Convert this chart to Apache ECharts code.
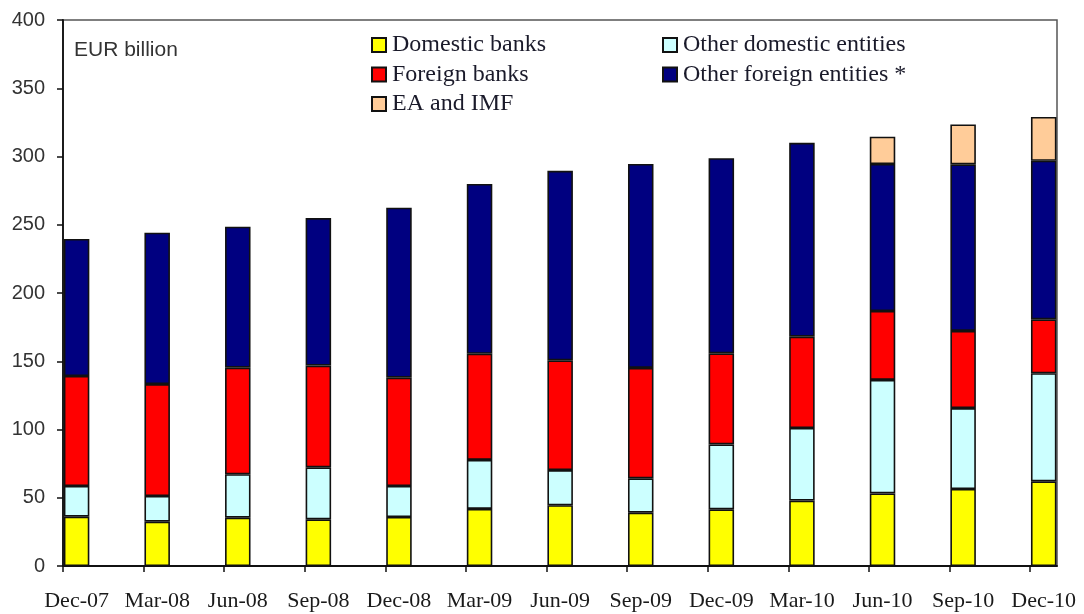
<!DOCTYPE html>
<html><head><meta charset="utf-8">
<script src="https://cdn.jsdelivr.net/npm/echarts@6/dist/echarts.min.js"></script>
<style>html,body{margin:0;padding:0;background:#fff}#c{width:1084px;height:614px}</style>
</head><body><div id="c"></div>
<script>
const categories = ['Dec-07','Mar-08','Jun-08','Sep-08','Dec-08','Mar-09','Jun-09','Sep-09','Dec-09','Mar-10','Jun-10','Sep-10','Dec-10'];
const domesticBanks = [36.1,32.5,35.4,34.2,35.9,41.8,44.5,39.1,41.5,47.9,53.2,56.4,62.0];
const otherDomestic = [22.5,18.8,31.8,38.1,22.7,35.9,25.8,25.1,47.6,53.2,83.1,59.3,79.2];
const foreignBanks = [80.6,82.0,78.1,74.5,79.4,77.8,80.4,80.9,66.7,66.9,50.5,56.5,39.5];
const otherForeign = [100.4,110.9,103.3,108.1,124.5,124.4,138.8,149.4,142.9,142.0,107.7,122.1,116.2];
const eaImf = [null,null,null,null,null,null,null,null,null,null,20.0,29.2,32.1];
const seriesNames = ['Domestic banks','Other domestic entities','Foreign banks','Other foreign entities *','EA and IMF'];
const seriesColors = ['#FFFF00','#CCFFFF','#FF0000','#000080','#FFCC99'];
const seriesData = [domesticBanks, otherDomestic, foreignBanks, otherForeign, eaImf];
const unitLabel = 'EUR billion';

const chart = echarts.init(document.getElementById('c'), null, {renderer:'canvas'});
const step = 80.6;
const plotW = 994;
const tickIdx = categories.map((_, i) => i);

const legendText = {fontFamily: 'Liberation Serif', fontSize: 24, color: '#1a1a2a', lineHeight: 24, padding: [0,0,0,1]};
const option = {
  animation: false,
  backgroundColor: '#fff',
  title: {
    text: unitLabel, left: 74, top: 40, padding: 0,
    textStyle: {fontFamily: 'Liberation Sans', fontSize: 21, fontWeight: 'normal', color: '#333'}
  },
  legend: [
    {
      data: [seriesNames[0], seriesNames[2], seriesNames[4]],
      orient: 'vertical', left: 371, top: 33, itemWidth: 14, itemHeight: 14, itemGap: 5.5,
      icon: 'rect', padding: 0, textStyle: legendText
    },
    {
      data: [seriesNames[1], seriesNames[3]],
      orient: 'vertical', left: 662, top: 33, itemWidth: 14, itemHeight: 14, itemGap: 5.5,
      icon: 'rect', padding: 0, textStyle: legendText
    }
  ],
  grid: [
    {left: 63, top: 20, width: plotW, height: 546, show: true, borderColor: '#555', borderWidth: 1.5, backgroundColor: 'transparent'},
    {left: 76.6 - step / 2, top: 20, width: step * categories.length, height: 546, show: false}
  ],
  xAxis: [
    {
      gridIndex: 0, type: 'value', min: 0, max: plotW / step,
      axisLine: {show: true, lineStyle: {color: '#111', width: 1.8}},
      axisTick: {show: true, length: 6, customValues: tickIdx, lineStyle: {color: '#111', width: 1.5}},
      axisLabel: {show: false}, splitLine: {show: false}
    },
    {
      gridIndex: 1, type: 'category', data: categories, boundaryGap: true,
      axisLine: {show: false}, axisTick: {show: false}, splitLine: {show: false},
      axisLabel: {fontFamily: 'Liberation Serif', fontSize: 22, color: '#1a1a1a', margin: 24, interval: 0}
    }
  ],
  yAxis: [
    {
      gridIndex: 0, type: 'value', min: 0, max: 400, interval: 50,
      axisLine: {show: true, lineStyle: {color: '#111', width: 1.8}},
      axisTick: {show: true, length: 6, lineStyle: {color: '#111', width: 1.5}},
      axisLabel: {fontFamily: 'Liberation Sans', fontSize: 20, color: '#333', margin: 18},
      splitLine: {show: false}
    },
    {gridIndex: 1, type: 'value', min: 0, max: 400, show: false, splitLine: {show: false}}
  ],
  series: seriesNames.map((name, i) => ({
    name: name, type: 'bar', stack: 'total', xAxisIndex: 1, yAxisIndex: 1,
    barWidth: 25.5, clip: false,
    itemStyle: {color: seriesColors[i], borderColor: '#111', borderWidth: 1.6},
    data: seriesData[i]
  }))
};
chart.setOption(option);
</script></body></html>
